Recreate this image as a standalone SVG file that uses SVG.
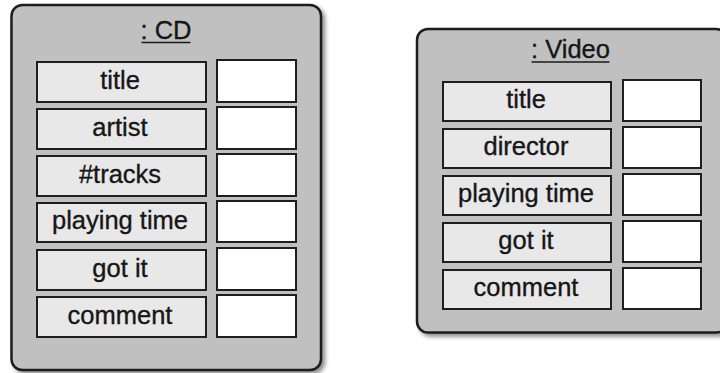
<svg xmlns="http://www.w3.org/2000/svg" width="720" height="373" viewBox="0 0 720 373">
  <defs>
    <filter id="shadow" x="-10%" y="-10%" width="130%" height="130%">
      <feGaussianBlur in="SourceAlpha" stdDeviation="2"/>
      <feOffset dx="3" dy="3" result="off"/>
      <feComponentTransfer><feFuncA type="linear" slope="0.45"/></feComponentTransfer>
      <feMerge><feMergeNode/><feMergeNode in="SourceGraphic"/></feMerge>
    </filter>
    <style>
      .obj { fill: #c0c0c0; stroke: #1e1e1e; stroke-width: 2.5; }
      .slot { fill: #e8e8e8; stroke: #1e1e1e; stroke-width: 2; }
      .val { fill: #ffffff; stroke: #1e1e1e; stroke-width: 2; }
      .txt { font-family: "Liberation Sans", Arial, Helvetica, sans-serif; font-size: 25.5px; fill: #161616; stroke: #161616; stroke-width: 0.35; text-anchor: middle; }
      .ul { stroke: #1a1a1a; stroke-width: 1.6; }
    </style>
  </defs>

  <!-- CD object -->
  <g id="cd">
    <rect class="obj" x="11.5" y="5" width="309.5" height="365" rx="11" filter="url(#shadow)"/>
    <text class="txt" x="166" y="39">: CD</text>
    <line class="ul" x1="141.5" y1="42.5" x2="190.5" y2="42.5"/>

    <rect class="slot" x="37" y="62" width="169" height="40"/>
    <rect class="val" x="217" y="60" width="79" height="42"/>
    <text class="txt" x="120" y="89">title</text>

    <rect class="slot" x="37" y="109" width="169" height="40"/>
    <rect class="val" x="217" y="107" width="79" height="42"/>
    <text class="txt" x="120" y="136">artist</text>

    <rect class="slot" x="37" y="156" width="169" height="40"/>
    <rect class="val" x="217" y="154" width="79" height="42"/>
    <text class="txt" x="120" y="183">#tracks</text>

    <rect class="slot" x="37" y="203" width="169" height="39"/>
    <rect class="val" x="217" y="201" width="79" height="41"/>
    <text class="txt" x="120" y="229">playing time</text>

    <rect class="slot" x="37" y="250" width="169" height="40"/>
    <rect class="val" x="217" y="248" width="79" height="42"/>
    <text class="txt" x="120" y="277">got it</text>

    <rect class="slot" x="37" y="297" width="169" height="40"/>
    <rect class="val" x="217" y="295" width="79" height="42"/>
    <text class="txt" x="120" y="324">comment</text>
  </g>

  <!-- Video object -->
  <g id="video">
    <rect class="obj" x="417" y="29" width="310" height="303.5" rx="11" filter="url(#shadow)"/>
    <text class="txt" x="570.5" y="58">: Video</text>
    <line class="ul" x1="531.5" y1="62" x2="609.5" y2="62"/>

    <rect class="slot" x="443" y="82" width="168" height="39"/>
    <rect class="val" x="623" y="80" width="78" height="41"/>
    <text class="txt" x="526" y="108">title</text>

    <rect class="slot" x="443" y="129" width="168" height="39"/>
    <rect class="val" x="623" y="127" width="78" height="41"/>
    <text class="txt" x="526" y="155">director</text>

    <rect class="slot" x="443" y="176" width="168" height="39"/>
    <rect class="val" x="623" y="174" width="78" height="41"/>
    <text class="txt" x="526" y="202">playing time</text>

    <rect class="slot" x="443" y="223" width="168" height="39"/>
    <rect class="val" x="623" y="221" width="78" height="41"/>
    <text class="txt" x="526" y="249">got it</text>

    <rect class="slot" x="443" y="270" width="168" height="39"/>
    <rect class="val" x="623" y="268" width="78" height="41"/>
    <text class="txt" x="526" y="296">comment</text>
  </g>

  <!-- no connectors between the two objects -->
  <g id="connectors"/>
</svg>
